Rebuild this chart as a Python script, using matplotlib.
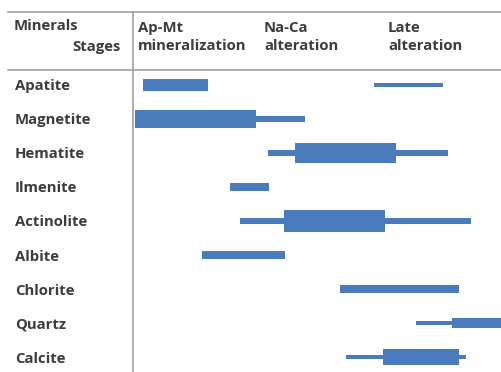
import matplotlib
matplotlib.use('Agg')
import matplotlib.pyplot as plt
from matplotlib.lines import Line2D

# minerals (rows) and stages (header)
minerals = ['Apatite', 'Magnetite', 'Hematite', 'Ilmenite', 'Actinolite',
            'Albite', 'Chlorite', 'Quartz', 'Calcite']
stages = ['Ap-Mt\nmineralization', 'Na-Ca\nalteration', 'Late\nalteration']
stage_pos = [5, 131, 255]

# segments: row index, start, end, thickness (relative abundance)
seg_row = [0, 0, 1, 1, 2, 2, 2, 3, 4, 4, 4, 5, 6, 7, 7, 8, 8, 8]
seg_start = [10, 241, 2, 123, 135, 162, 263, 97, 107, 151, 252, 69, 207, 283, 319, 213, 250, 326]
seg_end = [75, 310, 123, 172, 162, 263, 315, 136, 151, 252, 338, 152, 326, 319, 380, 250, 326, 333]
seg_size = [0.35, 0.14, 0.53, 0.18, 0.18, 0.59, 0.18, 0.24, 0.15, 0.65, 0.15,
            0.24, 0.24, 0.12, 0.30, 0.12, 0.47, 0.12]

W, H = 502, 372
fig = plt.figure(figsize=(W / 100, H / 100), dpi=100)
fig.patch.set_facecolor('white')
font = dict(family='Open Sans', weight='bold', color='#3c3c3c')
fs = 10.7

ax = fig.add_axes([133 / W, 0, (W - 133) / W, (H - 70) / H])
widths = [e - s for s, e in zip(seg_start, seg_end)]
ax.barh(seg_row, widths, left=seg_start, height=seg_size, color='#4a7bbd')
ax.set_xlim(0, W - 133)
ax.set_ylim(len(minerals) - 0.56, -0.44)
ax.set_xticks([])
ax.set_yticks(range(len(minerals)))
ax.set_yticklabels(minerals, ha='left', fontsize=fs, **font)
ax.tick_params(axis='y', length=0, pad=118 * 0.72)
for s in ax.spines.values():
    s.set_visible(False)

# header
fig.text(14 / W, 1 - 26 / H, 'Minerals', fontsize=fs, va='center', **font)
fig.text(121 / W, 1 - 47 / H, 'Stages', fontsize=fs, va='center', ha='right', **font)
for lab, x in zip(stages, stage_pos):
    fig.text((133 + x) / W, 1 - 37 / H, lab, fontsize=fs, va='center',
             linespacing=1.45, **font)

# table rules
gray = '#a0a0a0'
fig.add_artist(Line2D([8 / W, 1], [1 - 12 / H] * 2, color=gray, lw=1.2))
fig.add_artist(Line2D([8 / W, 1], [1 - 70 / H] * 2, color=gray, lw=1.2))
fig.add_artist(Line2D([133 / W] * 2, [0, 1 - 12 / H], color=gray, lw=1.2))

fig.savefig('out.png', dpi=100)
